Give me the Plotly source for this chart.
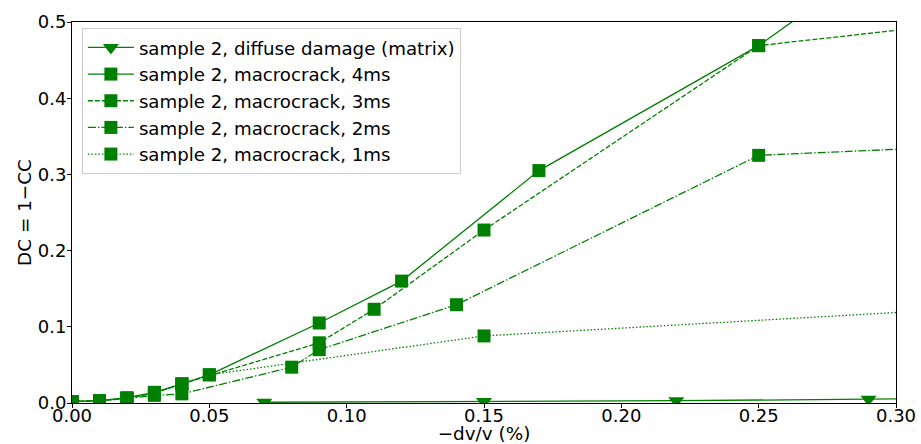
import plotly.graph_objects as go

GREEN = "#008000"

# Data (last points lie beyond the visible x range)
diffuse_x = [0.07, 0.15, 0.22, 0.29, 0.36]
diffuse_y = [0.001, 0.002, 0.003, 0.005, 0.007]

mc4_x = [0.00, 0.01, 0.02, 0.03, 0.04, 0.05, 0.09, 0.12, 0.17, 0.25, 0.35]
mc4_y = [0.002, 0.003, 0.007, 0.014, 0.025, 0.037, 0.105, 0.160, 0.305, 0.469, 0.726]

mc3_x = [0.00, 0.01, 0.02, 0.03, 0.04, 0.09, 0.11, 0.15, 0.25, 0.35]
mc3_y = [0.002, 0.003, 0.006, 0.013, 0.025, 0.079, 0.123, 0.227, 0.469, 0.509]

mc2_x = [0.00, 0.01, 0.02, 0.03, 0.04, 0.08, 0.09, 0.14, 0.25, 0.35]
mc2_y = [0.002, 0.003, 0.006, 0.010, 0.012, 0.047, 0.070, 0.129, 0.325, 0.341]

mc1_x = [0.00, 0.01, 0.02, 0.03, 0.04, 0.05, 0.15, 0.35]
mc1_y = [0.002, 0.003, 0.006, 0.013, 0.025, 0.037, 0.088, 0.129]

x_ticks = [0, 0.05, 0.10, 0.15, 0.20, 0.25, 0.30]
y_ticks = [0, 0.1, 0.2, 0.3, 0.4, 0.5]

series = [
    ("sample 2, diffuse damage (matrix)", diffuse_x, diffuse_y, "solid", "triangle-down"),
    ("sample 2, macrocrack, 4ms", mc4_x, mc4_y, "solid", "square"),
    ("sample 2, macrocrack, 3ms", mc3_x, mc3_y, "5px,2px", "square"),
    ("sample 2, macrocrack, 2ms", mc2_x, mc2_y, "8px,2px,1.5px,2px", "square"),
    ("sample 2, macrocrack, 1ms", mc1_x, mc1_y, "1.5px,2px", "square"),
]

FONT = "DejaVu Sans, Liberation Sans, sans-serif"
FS = 18

fig = go.Figure()
for i, (name, xs, ys, dash, sym) in enumerate(series):
    fig.add_trace(go.Scatter(
        x=xs, y=ys, name=name, mode="lines+markers",
        line=dict(color=GREEN, width=1.3, dash=dash),
        marker=dict(color=GREEN, symbol=sym, size=13 if sym == "square" else 14,
                    line=dict(width=0)),
        cliponaxis=True,
    ))

axis_common = dict(
    showline=True, linecolor="black", linewidth=1, mirror=True,
    ticks="outside", ticklen=4, tickcolor="black", tickwidth=1,
    showgrid=False, zeroline=False, automargin=False,
    tickfont=dict(family=FONT, size=FS, color="black"),
)

fig.update_layout(
    width=921, height=444,
    margin=dict(l=72, r=25, t=22, b=41),
    paper_bgcolor="white", plot_bgcolor="white",
    font=dict(family=FONT, size=FS, color="black"),
    showlegend=True,
    legend=dict(
        x=0.012, y=0.984, xanchor="left", yanchor="top",
        bgcolor="rgba(255,255,255,0.8)", bordercolor="#cccccc", borderwidth=1,
        font=dict(family=FONT, size=18.2, color="black"),
        itemwidth=46,
    ),
    xaxis=dict(range=[0, 0.30], tickvals=x_ticks, tickformat=".2f",
               ticklabelstandoff=-8,
               title=dict(text="\u2212dv/v (%)", font=dict(family=FONT, size=18.4), standoff=3),
               **axis_common),
    yaxis=dict(range=[0, 0.5], tickvals=y_ticks, tickformat=".1f",
               ticklabelstandoff=-3,
               title=dict(text="DC = 1\u2212CC", font=dict(family=FONT, size=18.4), standoff=1),
               **axis_common),
)

fig.write_html("out.html")
